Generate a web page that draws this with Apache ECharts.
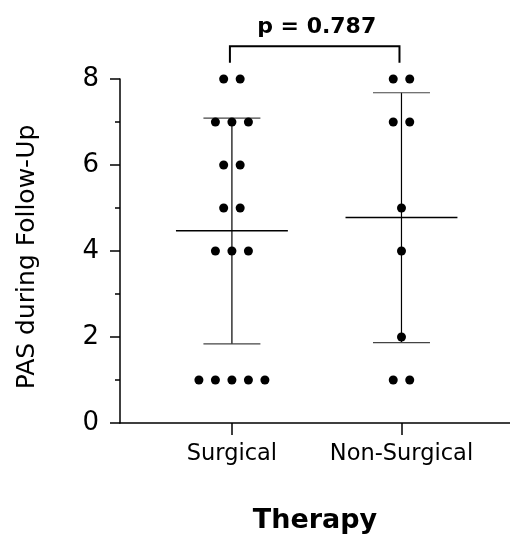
<!DOCTYPE html>
<html><head><meta charset="utf-8">
<script src="https://cdn.jsdelivr.net/npm/echarts@6/dist/echarts.min.js"></script>
<style>html,body{margin:0;padding:0;background:#fff}#c{width:510px;height:536px}</style>
</head><body><div id="c"></div>
<script>
const categories = ['Surgical', 'Non-Surgical'];
const surgicalValues = [8, 8, 7, 7, 7, 6, 6, 5, 5, 4, 4, 4, 1, 1, 1, 1, 1];
const nonSurgicalValues = [8, 8, 7, 7, 5, 4, 2, 1, 1];
const meanValues = [4.47, 4.78];
const sdLower = [1.84, 1.87];
const sdUpper = [7.09, 7.68];
const yTicks = [0, 2, 4, 6, 8];
const pLabel = 'p = 0.787';
const bracketLevels = [8.76, 8.38];

const FONT = 'DejaVu Sans';

function dots(values, cat) {
  const counts = {};
  values.forEach(v => counts[v] = (counts[v] || 0) + 1);
  const seen = {};
  return values.map(v => {
    const n = counts[v];
    const i = seen[v] || 0;
    seen[v] = i + 1;
    return { value: [cat, v], symbolOffset: [(i - (n - 1) / 2) * 16.5, 0] };
  });
}

const errData = categories.map((c, i) => [i + 1, meanValues[i], sdLower[i], sdUpper[i]]);

const chart = echarts.init(document.getElementById('c'), null, { renderer: 'canvas' });
chart.setOption({
  backgroundColor: '#fff',
  animation: false,
  grid: { left: 120, right: 0, top: 79, bottom: 113, containLabel: false, outerBoundsMode: 'none' },
  xAxis: {
    type: 'value', min: 0.34, max: 2.64,
    splitLine: { show: false },
    axisLine: { show: true, lineStyle: { color: '#000', width: 1.5 } },
    axisTick: { show: true, customValues: [1, 2], length: 12, lineStyle: { color: '#000', width: 1.5 } },
    axisLabel: {
      customValues: [1, 2], formatter: v => categories[Math.round(v) - 1] || '',
      color: '#000', fontFamily: FONT, fontSize: 22.5, margin: 20
    },
    name: 'Therapy', nameLocation: 'middle', nameGap: 84,
    nameTextStyle: { color: '#000', fontFamily: FONT, fontSize: 27, fontWeight: 'bold' }
  },
  yAxis: {
    type: 'value', min: 0, max: 8, interval: 2,
    splitLine: { show: false },
    axisLine: { show: true, lineStyle: { color: '#000', width: 1.5 } },
    axisTick: { show: true, length: 10, lineStyle: { color: '#000', width: 1.5 } },
    minorTick: { show: true, splitNumber: 2, length: 5, lineStyle: { color: '#000', width: 1.5 } },
    axisLabel: { customValues: yTicks, color: '#000', fontFamily: FONT, fontSize: 26, margin: 21 },
    name: 'PAS during Follow-Up', nameLocation: 'middle', nameGap: 80,
    nameTextStyle: { color: '#000', fontFamily: FONT, fontSize: 25, padding: [0, 12, 0, 0] }
  },
  series: [
    {
      type: 'custom', z: 2,
      data: errData,
      renderItem(params, api) {
        const x = api.value(0);
        const pm = api.coord([x, api.value(1)]);
        const pl = api.coord([x, api.value(2)]);
        const ph = api.coord([x, api.value(3)]);
        const mw = api.size([0.33, 0])[0];
        const cw = api.size([0.168, 0])[0];
        return {
          type: 'group', children: [
            { type: 'line', shape: { x1: pl[0], y1: pl[1], x2: ph[0], y2: ph[1] }, style: { stroke: '#000', lineWidth: 1.2 } },
            { type: 'line', shape: { x1: ph[0] - cw, y1: ph[1], x2: ph[0] + cw, y2: ph[1] }, style: { stroke: '#444', lineWidth: 1.2 } },
            { type: 'line', shape: { x1: pl[0] - cw, y1: pl[1], x2: pl[0] + cw, y2: pl[1] }, style: { stroke: '#444', lineWidth: 1.2 } },
            { type: 'line', shape: { x1: pm[0] - mw, y1: pm[1], x2: pm[0] + mw, y2: pm[1] }, style: { stroke: '#000', lineWidth: 1.5 } }
          ]
        };
      }
    },
    {
      type: 'scatter', z: 3, symbol: 'circle', symbolSize: 9,
      itemStyle: { color: '#000', opacity: 1 },
      data: dots(surgicalValues, 1)
    },
    {
      type: 'scatter', z: 3, symbol: 'circle', symbolSize: 9,
      itemStyle: { color: '#000', opacity: 1 },
      data: dots(nonSurgicalValues, 2)
    },
    {
      type: 'custom', z: 4,
      data: [[1, 2]],
      renderItem(params, api) {
        const a = api.value(0), b = api.value(1);
        const aT = api.coord([a, bracketLevels[0]]), aB = api.coord([a, bracketLevels[1]]);
        const bT = api.coord([b, bracketLevels[0]]), bB = api.coord([b, bracketLevels[1]]);
        const dx = -2;
        return {
          type: 'group', children: [
            { type: 'polyline', shape: { points: [[aB[0] + dx, aB[1]], [aT[0] + dx, aT[1]], [bT[0] + dx, bT[1]], [bB[0] + dx, bB[1]]] },
              style: { stroke: '#000', lineWidth: 2, fill: null } },
            { type: 'text', x: (aT[0] + bT[0]) / 2, y: aT[1] - 8,
              style: { text: pLabel, fill: '#000', font: 'bold 22px "DejaVu Sans"', align: 'center', verticalAlign: 'bottom' } }
          ]
        };
      }
    }
  ]
});
</script>
</body></html>
